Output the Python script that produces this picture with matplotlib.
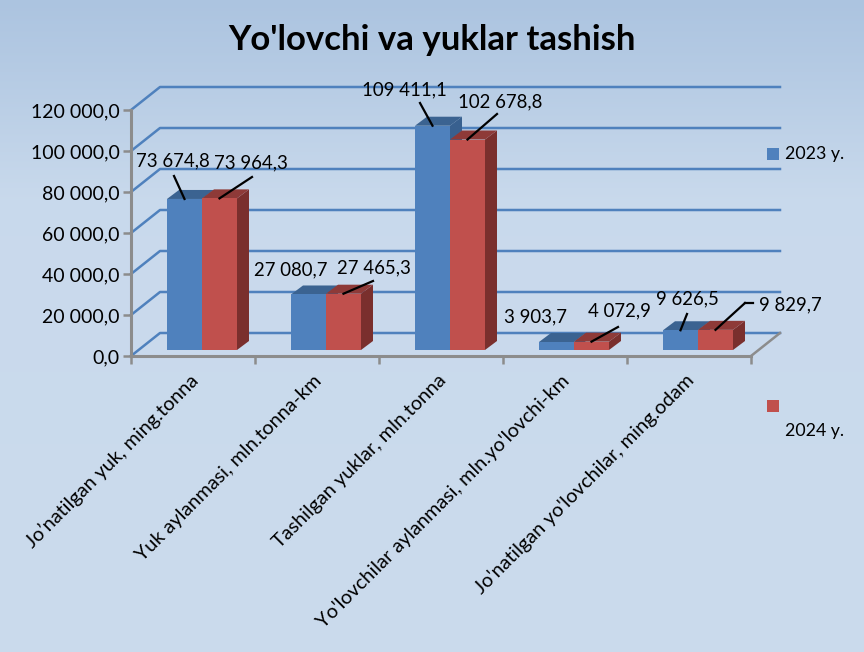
import numpy as np
import matplotlib
matplotlib.use("Agg")
import matplotlib.pyplot as plt

plt.rcParams["font.family"] = ["Lato", "DejaVu Sans"]

categories = [
    "Jo’natilgan yuk, ming.tonna",
    "Yuk aylanmasi, mln.tonna-km",
    "Tashilgan yuklar, mln.tonna",
    "Yo'lovchilar aylanmasi, mln.yo'lovchi-km",
    "Jo'natilgan yo'lovchilar, ming.odam",
]
values_2023 = [73674.8, 27080.7, 109411.1, 3903.7, 9626.5]
values_2024 = [73964.3, 27465.3, 102678.8, 4072.9, 9829.7]
y_ticks = [0, 20000, 40000, 60000, 80000, 100000, 120000]
title = "Yo'lovchi va yuklar tashish"

# pixel positions of the labels and where their leader lines end
label_pos_2023 = [(173, 161), (291, 270), (404, 90), (535, 317), (687, 299)]
label_pos_2024 = [(251, 163), (374, 268), (500, 102), (619, 311), (790, 305)]
leader_end_2023 = [(174, 176), None, (420, 103), None, (687, 314)]
leader_end_2024 = [(252, 177), (373, 281), (497, 114), (618, 327), (745, 303)]

W, H = 864, 652
LEFT, RIGHT, BOTTOM, TOP = 131, 751, 356, 110
BLUE, BLUE_TOP, BLUE_SIDE = "#4F81BD", "#3B6391", "#38608F"
RED, RED_TOP, RED_SIDE = "#C0504D", "#8E3A38", "#7A2F2D"
GRID = "#4F81BD"
AXIS = "#8C8C8C"
FS = 13.4


def fmt(v):
    return f"{v:,.1f}".replace(",", " ").replace(".", ",")


def px(x, y):
    return x / W, 1 - y / H


fig = plt.figure(figsize=(W / 100, H / 100), dpi=100)

# background gradient
bg = fig.add_axes([0, 0, 1, 1], zorder=0)
stops = np.interp(np.arange(H), [0, 60, 200, 652], [0, 0.25, 0.93, 1.0])
top_c = np.array([172, 196, 224]) / 255
low_c = np.array([203, 219, 237]) / 255
grad = (top_c[None, :] * (1 - stops[:, None]) + low_c[None, :] * stops[:, None])[:, None, :]
bg.imshow(grad, aspect="auto", extent=[0, 1, 0, 1])
bg.axis("off")

ax = fig.add_axes([LEFT / W, 1 - BOTTOM / H, (RIGHT - LEFT) / W, (BOTTOM - TOP) / H], zorder=1)
ax.set_xlim(-0.5, 4.5)
ax.set_ylim(0, 120000)
ax.patch.set_alpha(0)
for s in ax.spines.values():
    s.set_visible(False)

ux = 5 / (RIGHT - LEFT)           # data per pixel
uy = 120000 / (BOTTOM - TOP)
wall_dx, wall_dy = 29 * ux, 23 * uy
bar_dx, bar_dy = 12 * ux, 9 * uy
shift_x, shift_y = 9 * ux, 6 * uy
bar_w = 35 * ux

# wall grid and floor
for t in y_ticks:
    ax.plot([-0.5, -0.5 + wall_dx, 4.5 + wall_dx], [t, t + wall_dy, t + wall_dy],
            color=GRID, lw=1.8, clip_on=False, zorder=1)
ax.plot([4.5 + wall_dx, 4.5], [wall_dy, 0], color=AXIS, lw=1.8, clip_on=False, zorder=1)


def draw_bar(x0, val, front, top, side, z):
    x1 = x0 + bar_w
    y0 = shift_y
    y1 = shift_y + val
    ax.fill([x1, x1 + bar_dx, x1 + bar_dx, x1], [y0, y0 + bar_dy, y1 + bar_dy, y1],
            color=side, lw=0, clip_on=False, zorder=z)
    ax.fill([x0, x1, x1 + bar_dx, x0 + bar_dx], [y1, y1, y1 + bar_dy, y1 + bar_dy],
            color=top, lw=0, clip_on=False, zorder=z)
    ax.fill([x0, x1, x1, x0], [y0, y0, y1, y1],
            color=front, lw=0, clip_on=False, zorder=z)


for i in range(len(categories)):
    left = i + shift_x - bar_w
    draw_bar(left, values_2023[i], BLUE, BLUE_TOP, BLUE_SIDE, 3)
    draw_bar(left + bar_w, values_2024[i], RED, RED_TOP, RED_SIDE, 4)

ax.set_xticks(np.arange(-0.5, 5))
ax.set_xticklabels([])
ax.set_yticks(y_ticks)
ax.set_yticklabels([fmt(t) for t in y_ticks], fontsize=FS + 0.6)
ax.tick_params(axis="both", color=AXIS, width=1.8, length=6, pad=2, labelcolor="black")
ax.plot([-0.5, -0.5], [0, 120000], color=AXIS, lw=2.2, clip_on=False, zorder=2)
ax.plot([-0.5, 4.5], [0, 0], color=AXIS, lw=2.2, clip_on=False, zorder=2)

# rotated category labels
for i, name in enumerate(categories):
    x, y = px(LEFT + 62 + 124 * i - 4, 372)
    fig.text(x, y, name, rotation=45, rotation_mode="anchor", ha="right", va="top",
             fontsize=14.3, color="black", zorder=5)

# data labels with leader lines
overlay = fig.add_axes([0, 0, 1, 1], zorder=3)
overlay.set_xlim(0, W)
overlay.set_ylim(H, 0)
overlay.axis("off")
for vals, positions, ends, off in [
    (values_2023, label_pos_2023, leader_end_2023, -bar_w / 2),
    (values_2024, label_pos_2024, leader_end_2024, bar_w / 2),
]:
    for i, v in enumerate(vals):
        overlay.text(*positions[i], fmt(v), fontsize=FS, ha="center", va="center", color="black")
        if ends[i] is not None:
            sx, sy = ax.transData.transform((i + shift_x + off, shift_y + v))
            overlay.plot([sx, ends[i][0]], [H - sy, ends[i][1]], color="black", lw=1.6)

overlay.plot([745, 753], [303, 303], color="black", lw=1.6)

# legend
for y, col, lab, ly in [(154, BLUE, "2023 y.", 154), (406, RED, "2024 y.", 431)]:
    overlay.fill([767, 779, 779, 767], [y - 6, y - 6, y + 6, y + 6], color=col, lw=0)
    overlay.text(785, ly, lab, fontsize=FS - 0.6, ha="left", va="center", color="black")

overlay.text(432, 40, title, fontsize=25, fontweight="bold", ha="center", va="center", color="black")

fig.savefig("out.png", dpi=100)
